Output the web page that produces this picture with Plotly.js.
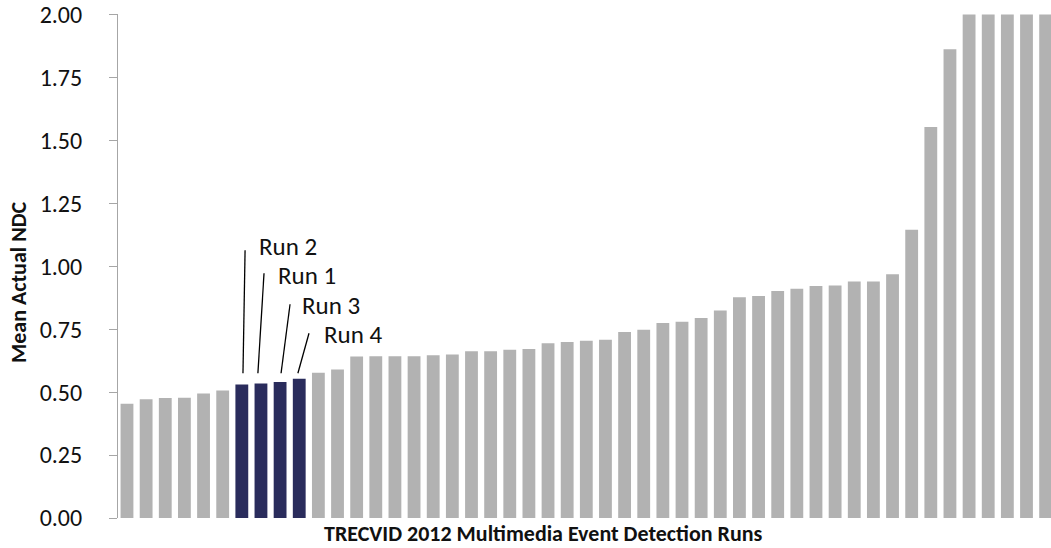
<!DOCTYPE html>
<html>
<head>
<meta charset="utf-8">
<script src="https://cdn.plot.ly/plotly-3.0.1.min.js"></script>
<style>
  html, body { margin: 0; padding: 0; background: #ffffff; }
  #chart { width: 1051px; height: 548px; }
</style>
</head>
<body>
<div id="chart"></div>
<script>
// ---- Data ----
const runIndex = [
  0, 1, 2, 3, 4, 5, 6, 7, 8, 9,
  10, 11, 12, 13, 14, 15, 16, 17, 18, 19,
  20, 21, 22, 23, 24, 25, 26, 27, 28, 29,
  30, 31, 32, 33, 34, 35, 36, 37, 38, 39,
  40, 41, 42, 43, 44, 45, 46, 47, 48
];
const meanActualNDC = [
  0.454, 0.472, 0.477, 0.478, 0.495, 0.506, 0.530, 0.534, 0.540, 0.553,
  0.577, 0.590, 0.642, 0.643, 0.643, 0.643, 0.646, 0.649, 0.662, 0.662,
  0.668, 0.671, 0.694, 0.699, 0.704, 0.708, 0.739, 0.748, 0.775, 0.780,
  0.794, 0.824, 0.877, 0.882, 0.902, 0.911, 0.922, 0.924, 0.939, 0.939,
  0.968, 1.145, 1.553, 1.862, 2.00, 2.00, 2.00, 2.00, 2.00
];
// highlighted runs (our submissions)
const highlightIndex = [6, 7, 8, 9];
const highlightLabels = ["Run 2", "Run 1", "Run 3", "Run 4"];

const yTickVals = [0, 0.25, 0.5, 0.75, 1.0, 1.25, 1.5, 1.75, 2.0];
const yTitle = "Mean Actual NDC";
const xTitle = "TRECVID 2012 Multimedia Event Detection Runs";

// ---- Styling ----
const GREY = "#b2b2b2";
const NAVY = "#2a2c5c";
const AXIS = "#a6a6a6";
const FONT = "Carlito, Lato, sans-serif";

const colors = runIndex.map(i => highlightIndex.includes(i) ? NAVY : GREY);

const trace = {
  type: "bar",
  x: runIndex,
  y: meanActualNDC,
  marker: { color: colors, line: { width: 0 } },
  hoverinfo: "skip"
};

// Leader lines & labels for the highlighted runs (offsets in data units)
const lineBottomDx = [0.06, -0.16, 0.05, -0.07];
const lineTopDx    = [0.17, 0.16, 0.52, 0.51];
const lineTopY     = [1.064, 0.972, 0.849, 0.734];
const lineBottomY  = 0.575;
const labelDx      = [0.79, 0.78, 1.04, 1.19];
const labelY       = [1.079, 0.964, 0.845, 0.730];

const shapes = highlightIndex.map((idx, k) => ({
  type: "line", xref: "x", yref: "y",
  x0: idx + lineBottomDx[k], y0: lineBottomY,
  x1: idx + lineTopDx[k], y1: lineTopY[k],
  line: { color: "#000000", width: 1.3 }
}));

const W = 1051, H = 548;
const M = { l: 118, r: 0, t: 14, b: 30 };
const plotW = W - M.l - M.r, plotH = H - M.t - M.b;
const px2paperX = px => (px - M.l) / plotW;
const px2paperY = py => (H - M.b - py) / plotH;

const annotations = highlightIndex.map((idx, k) => ({
  xref: "x", yref: "y",
  x: idx + labelDx[k], y: labelY[k],
  text: highlightLabels[k],
  showarrow: false, xanchor: "left", yanchor: "middle",
  font: { family: FONT, size: 25, color: "#111111" }
}));

annotations.push({
  xref: "paper", yref: "paper",
  x: px2paperX(18), y: px2paperY(282),
  text: "<b>" + yTitle + "</b>", textangle: -90,
  showarrow: false, xanchor: "center", yanchor: "middle",
  font: { family: FONT, size: 22, color: "#111111" }
});
annotations.push({
  xref: "paper", yref: "paper",
  x: px2paperX(543), y: px2paperY(533),
  text: "<b>" + xTitle + "</b>",
  showarrow: false, xanchor: "center", yanchor: "middle",
  font: { family: FONT, size: 22, color: "#111111" }
});

const layout = {
  width: W, height: H,
  margin: M,
  paper_bgcolor: "#ffffff",
  plot_bgcolor: "#ffffff",
  showlegend: false,
  bargap: 0.33,
  font: { family: FONT, color: "#111111" },
  xaxis: {
    range: [-0.47, 48.28],
    showticklabels: false, ticks: "",
    showgrid: false, zeroline: false, showline: false,
    fixedrange: true
  },
  yaxis: {
    range: [0, 2.002],
    tickvals: yTickVals,
    tickformat: ".2f",
    ticks: "outside", ticklen: 8, tickcolor: AXIS, tickwidth: 1,
    ticklabelstandoff: 22,
    ticklabeloverflow: "allow",
    showline: true, linecolor: AXIS, linewidth: 1,
    showgrid: false, zeroline: false,
    tickfont: { family: FONT, size: 24, color: "#111111" },
    fixedrange: true
  },
  shapes: shapes,
  annotations: annotations
};

Plotly.newPlot("chart", [trace], layout, { displayModeBar: false, staticPlot: true });
</script>
</body>
</html>
